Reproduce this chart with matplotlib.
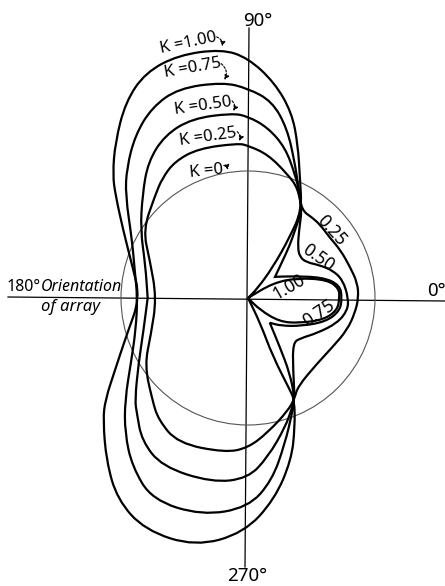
"""
Horizontal pattern of the array for several values of K.
Radii are in units of the K = 0 pattern (unit circle).
"""
import matplotlib
matplotlib.use("Agg")
import matplotlib.pyplot as plt
import numpy as np
from matplotlib.path import Path
from matplotlib.patches import PathPatch, Circle

# ── pattern samples: angle (deg), relative field strength ───────────────────
# a repeated sample marks a sharp corner (cusp) in the drawn curve
k100_deg = [-180, -163, -151.6, -144.5, -140, -131, -123, -114, -102, -91, -82.5, -75, -70,
            -65.5, -65.5, -67, -64, -55, -55, -45, -37, -26, -16, -7.7, 0, 6, 13, 22, 31,
            38, 38, 45, 51, 55.5, 58.5, 66.6, 72, 76.7, 83, 90, 96, 106, 114.5, 122, 130.5,
            137.7, 142.2, 151.4, 164]
k100_r = [0.85, 1.00, 1.19, 1.38, 1.49, 1.70, 1.89, 2.00, 2.00, 1.85, 1.60, 1.32, 1.08,
          0.88, 0.80, 0.50, 0.22, 0.0, 0.0, 0.13, 0.31, 0.45, 0.62, 0.71, 0.72, 0.72, 0.64, 0.42, 0.23,
          0.0, 0.0, 0.10, 0.31, 0.58, 0.81, 1.03, 1.27, 1.50, 1.71, 1.89, 1.97, 1.99, 1.95, 1.82, 1.61,
          1.44, 1.32, 1.12, 0.95]

k075_deg = [-180, -164, -152, -140.3, -132.3, -124.5, -115.4, -102, -90, -82.5, -75.7, -69,
            -65, -61, -57, -48.7, -48.7, -40, -28, -17, -8, 0, 8, 15.6, 27.6, 38, 38, 46.6,
            51.6, 55.5, 58.5, 66, 71, 77, 83, 90, 96.6, 108.4, 116.8, 124.7, 133, 140, 153.5,
            166]
k075_r = [0.87, 0.92, 1.04, 1.26, 1.44, 1.61, 1.76, 1.75, 1.65, 1.45, 1.18, 0.97,
          0.87, 0.68, 0.46, 0.26, 0.26, 0.34, 0.47, 0.64, 0.73, 0.74, 0.73, 0.61, 0.37, 0.27, 0.27, 0.39,
          0.53, 0.66, 0.81, 0.97, 1.13, 1.37, 1.56, 1.65, 1.71, 1.74, 1.68, 1.56, 1.40, 1.26, 1.02,
          0.92]

k050_deg = [-180, -180, -163, -148.7, -137.9, -134, -126.7, -117, -101, -90, -82.8, -74, -68,
            -65, -58, -45, -37.6, -27, -15.7, -7, 0, 10.7, 18.2, 24.6, 31.4, 38.3, 45.6,
            53.1, 58.5, 63.2, 69.1, 76.1, 83.3, 90, 95, 107.3, 117, 126.3, 135.8, 147.8, 162]
k050_r = [0.79, 0.79, 0.86, 1.01, 1.20, 1.26, 1.40, 1.49, 1.48, 1.42, 1.26, 1.06, 0.93,
          0.87, 0.67, 0.50, 0.52, 0.61, 0.73, 0.79, 0.79, 0.76, 0.70, 0.62, 0.54, 0.52, 0.56,
          0.67, 0.81, 0.91, 1.04, 1.22, 1.35, 1.43, 1.46, 1.48, 1.44, 1.33, 1.16, 1.00, 0.85]

k025_deg = [-180, -159, -147, -133.3, -126.4, -115.8, -98.4, -90, -81.6, -70.3, -65,
            -60.7, -43.3, -30, -17.9, -8, 0, 7.8, 16.9, 27.6, 36.6, 45.4, 51.7, 58.5, 65.6,
            72, 82, 90, 93.7, 108.4, 118.2, 125.6, 132.1, 147, 158.8]
k025_r = [0.72, 0.82, 0.97, 1.10, 1.19, 1.27, 1.23, 1.18, 1.07, 0.94, 0.87,
          0.80, 0.75, 0.77, 0.82, 0.85, 0.87, 0.87, 0.84, 0.82, 0.80, 0.81, 0.81, 0.81, 0.95,
          1.02, 1.14, 1.20, 1.22, 1.24, 1.22, 1.16, 1.09, 0.985, 0.83]

k_names = ["1.00", "0.75", "0.50", "0.25"]
k_curves = [(k100_deg, k100_r), (k075_deg, k075_r), (k050_deg, k050_r), (k025_deg, k025_r)]

# ── layout: the drawing is laid out on a 445 x 586 px sheet ────────────────
CX, CY, UNIT = 248.0, 298.0, 127.0   # pole position and circle radius, px


def px(x, y):
    """Sheet pixel position -> data coordinates."""
    return (x - CX) / UNIT, (CY - y) / UNIT


def closed_curve(deg, r):
    """Closed quadratic B-spline path through the polar samples."""
    t = np.radians(deg)
    pts = np.column_stack([np.asarray(r) * np.cos(t), np.asarray(r) * np.sin(t)])
    mids = (pts + np.roll(pts, -1, axis=0)) / 2
    verts = [mids[-1]]
    codes = [Path.MOVETO]
    for p, m in zip(pts, mids):
        verts += [p, m]
        codes += [Path.CURVE3, Path.CURVE3]
    return Path(verts, codes), pts


fig = plt.figure(figsize=(4.45, 5.86), dpi=100)
ax = fig.add_axes([0, 0, 1, 1])
ax.set_xlim(px(0, 0)[0], px(445, 0)[0])
ax.set_ylim(px(0, 586)[1], px(0, 0)[1])
ax.axis("off")

FONT = dict(family=["Noto Sans", "DejaVu Sans"], stretch="condensed")

# reference axes
ax.plot(*zip(px(8, 297), px(445, 301)), color="black", lw=0.9, zorder=1)
ax.plot(*zip(px(249, 28), px(245, 567)), color="black", lw=0.9, zorder=1)

# K = 0 : omnidirectional
ax.add_patch(Circle((0, 0), 1.0, fill=False, ec="#555555", lw=0.8, zorder=2))

tops = []
for deg, r in k_curves:
    path, pts = closed_curve(deg, r)
    ax.add_patch(PathPatch(path, fill=False, ec="black", lw=1.6, zorder=3))
    tops.append(pts[np.argmax(pts[:, 1])])
tops.append((np.cos(np.radians(99)), np.sin(np.radians(99))))

# K labels with dashed pointer arrows
label_pos = [(188, 43, 12), (193, 68, 10), (203, 106, 8), (208, 137, 8), (206, 171, 6)]
arrow_from = [(214, 36), (219, 62), (230, 99), (235, 130), (221, 165)]
for name, (lx, ly, rot), (ax0, ay0), tip in zip(k_names + ["0"], label_pos, arrow_from, tops):
    ax.text(*px(lx, ly), f"K ={name}", fontsize=12, rotation=rot,
            ha="center", va="center", zorder=5, **FONT)
    ax.annotate("", xy=tip, xytext=px(ax0, ay0),
                arrowprops=dict(arrowstyle="-|>", lw=0.8, ls=(0, (2, 1.5)),
                                color="black", mutation_scale=7,
                                connectionstyle="arc3,rad=-0.5"), zorder=5)

# labels on the forward lobes
lobe_labels = [("0.25", 331, 231, -48), ("0.50", 318, 258, -35),
               ("1.00", 289, 287, 30), ("0.75", 319, 313, 34)]
for txt, lx, ly, rot in lobe_labels:
    ax.text(*px(lx, ly), txt, fontsize=12.5, rotation=rot,
            ha="center", va="center", zorder=5, **FONT)

# direction labels
ax.text(*px(258, 21), "90°", fontsize=13.5, ha="center", va="center", **FONT)
ax.text(*px(436, 291), "0°", fontsize=13.5, ha="center", va="center", **FONT)
ax.text(*px(247, 576), "270°", fontsize=13.5, ha="center", va="center", **FONT)
ax.text(*px(7, 287), "180°", fontsize=11.5, ha="left", va="center", **FONT)
ax.text(*px(41, 287), "Orientation", fontsize=11.5, style="italic",
        ha="left", va="center", **FONT)
ax.text(*px(71, 307), "of array", fontsize=12, style="italic",
        ha="center", va="center", **FONT)

fig.savefig("out.png", dpi=100, facecolor="white")
